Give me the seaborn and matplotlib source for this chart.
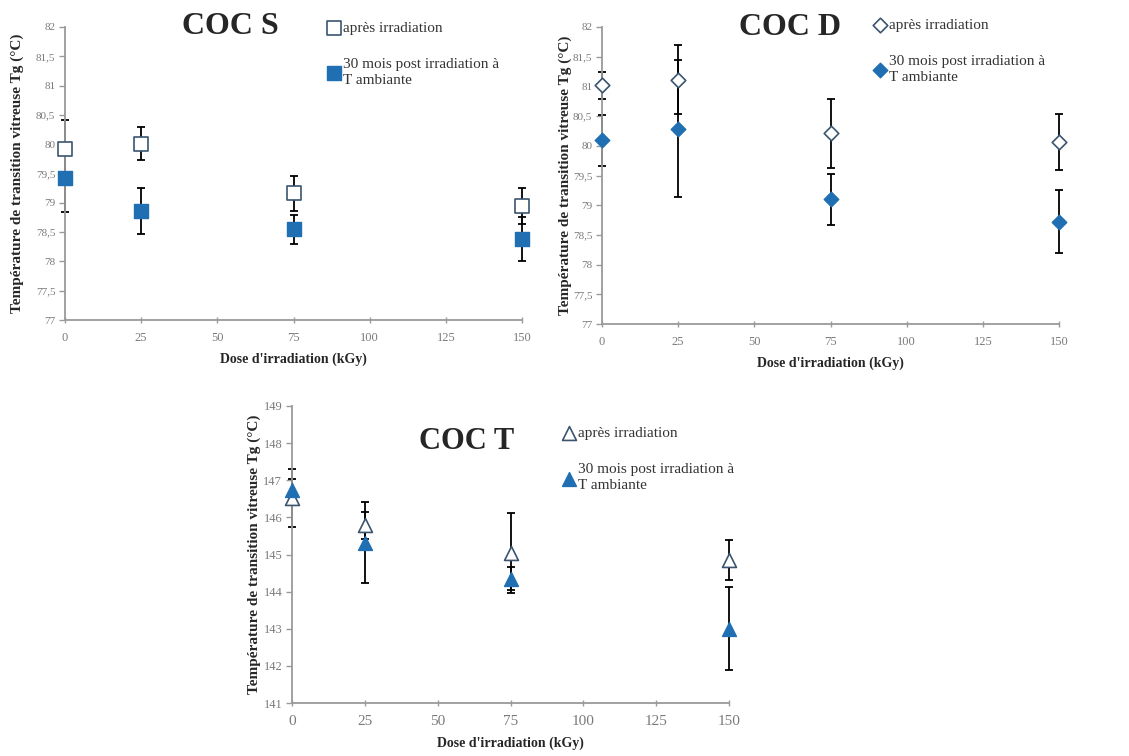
import numpy as np
import pandas as pd
import matplotlib
matplotlib.use("Agg")
import matplotlib.pyplot as plt
import seaborn as sns
from matplotlib.ticker import FuncFormatter, MultipleLocator

# Dose values (kGy)
doses = [0, 25, 75, 150]

# COC S
s_apres = [79.92, 80.01, 79.16, 78.95]
s_apres_err = [0.50, 0.28, 0.30, 0.31]
s_30m = [79.42, 78.86, 78.55, 78.38]
s_30m_err = [0.58, 0.40, 0.25, 0.37]

# COC D
d_apres = [81.02, 81.11, 80.21, 80.07]
d_apres_err = [0.23, 0.58, 0.58, 0.47]
d_30m = [80.09, 80.29, 79.10, 78.72]
d_30m_err = [0.43, 1.16, 0.43, 0.53]

# COC T
t_apres = [146.51, 145.79, 145.05, 144.85]
t_apres_err = [0.78, 0.36, 1.08, 0.55]
t_30m = [146.73, 145.32, 144.35, 143.00]
t_30m_err = [0.30, 1.10, 0.30, 1.12]

lbl_apres = "après irradiation"
lbl_30m = "30 mois post irradiation à\nT ambiante"
xlabel = "Dose d'irradiation (kGy)"
ylabel = "Température de transition vitreuse Tg (°C)"

blue = "#1f6fb2"
edge = "#3b5570"
grey = "#9a9a9a"

sns.set_style("white")
plt.rcParams["font.family"] = ["Liberation Serif", "DejaVu Serif"]

fig = plt.figure(figsize=(11.29, 7.56), dpi=100)


def panel(rect, title, apres, apres_err, m30, m30_err, marker, size, ylim, ystep,
          title_pos, title_size, leg_pos, ylab_x, tick_sz, xtick_sz):
    ax = fig.add_axes(rect)
    df = pd.DataFrame({"dose": doses, "apres": apres, "apres_err": apres_err,
                       "m30": m30, "m30_err": m30_err})
    # error bars
    for col in ["apres", "m30"]:
        eb = ax.errorbar(df["dose"], df[col], yerr=df[col + "_err"], fmt="none",
                         ecolor="black", elinewidth=1.3, capsize=3, capthick=1.3,
                         zorder=2)
        for art in eb.lines[1] + eb.lines[2]:
            art.set_clip_on(False)
    sns.scatterplot(data=df, x="dose", y="apres", marker=marker, s=size,
                    color="white", edgecolor=edge, linewidth=1.2,
                    label=lbl_apres, ax=ax, zorder=3, clip_on=False)
    sns.scatterplot(data=df, x="dose", y="m30", marker=marker, s=size,
                    color=blue, edgecolor=blue, linewidth=1.0,
                    label=lbl_30m, ax=ax, zorder=3, clip_on=False)

    ax.set_xlim(0, 150)
    ax.set_ylim(*ylim)
    ax.xaxis.set_major_locator(MultipleLocator(25))
    ax.yaxis.set_major_locator(MultipleLocator(ystep))
    ax.yaxis.set_major_formatter(FuncFormatter(lambda v, p: f"{v:g}".replace(".", ",")))
    sns.despine(ax=ax)
    for sp in ["left", "bottom"]:
        ax.spines[sp].set_color(grey)
        ax.spines[sp].set_linewidth(1.3)
    ax.tick_params(axis="y", which="major", direction="out", length=4, width=1,
                   color=grey, labelcolor="#7a7a7a", labelsize=tick_sz, pad=3, left=True)
    ax.tick_params(axis="x", which="major", direction="inout", length=5, width=1,
                   color=grey, labelcolor="#7a7a7a", labelsize=xtick_sz, pad=6, bottom=True)

    ax.set_xlabel(xlabel, fontsize=10, fontweight="bold", labelpad=6)
    ax.set_ylabel(ylabel, fontsize=11, fontweight="bold")
    ax.yaxis.set_label_coords(ylab_x, 0.5)

    ax.text(title_pos[0], title_pos[1], title, transform=ax.transAxes,
            fontsize=title_size, fontweight="bold", ha="center", va="center")

    leg = ax.legend(loc="upper left", bbox_to_anchor=leg_pos, frameon=False,
                    fontsize=11, borderpad=0, handlelength=0.8, handletextpad=0.2,
                    labelspacing=1.5, borderaxespad=0, labelcolor="#333333")
    for t in leg.get_texts():
        t.set_linespacing(1.3)
    return ax


panel([65 / 1129, 1 - 320 / 756, 457 / 1129, 293 / 756], "COC S",
      s_apres, s_apres_err, s_30m, s_30m_err, "s", 90, (77, 82), 0.5,
      (0.361, 1.0), 23, (0.575, 1.02), -0.09, 8, 9)

panel([602 / 1129, 1 - 324 / 756, 457 / 1129, 297 / 756], "COC D",
      d_apres, d_apres_err, d_30m, d_30m_err, "D", 55, (77, 82), 0.5,
      (0.411, 1.0), 23, (0.595, 1.03), -0.066, 8, 9)

panel([292 / 1129, 1 - 703 / 756, 437 / 1129, 297 / 756], "COC T",
      t_apres, t_apres_err, t_30m, t_30m_err, "^", 100, (141, 149), 1,
      (0.40, 0.88), 22, (0.62, 0.93), -0.071, 9, 11)

fig.savefig("out.png", dpi=100)
